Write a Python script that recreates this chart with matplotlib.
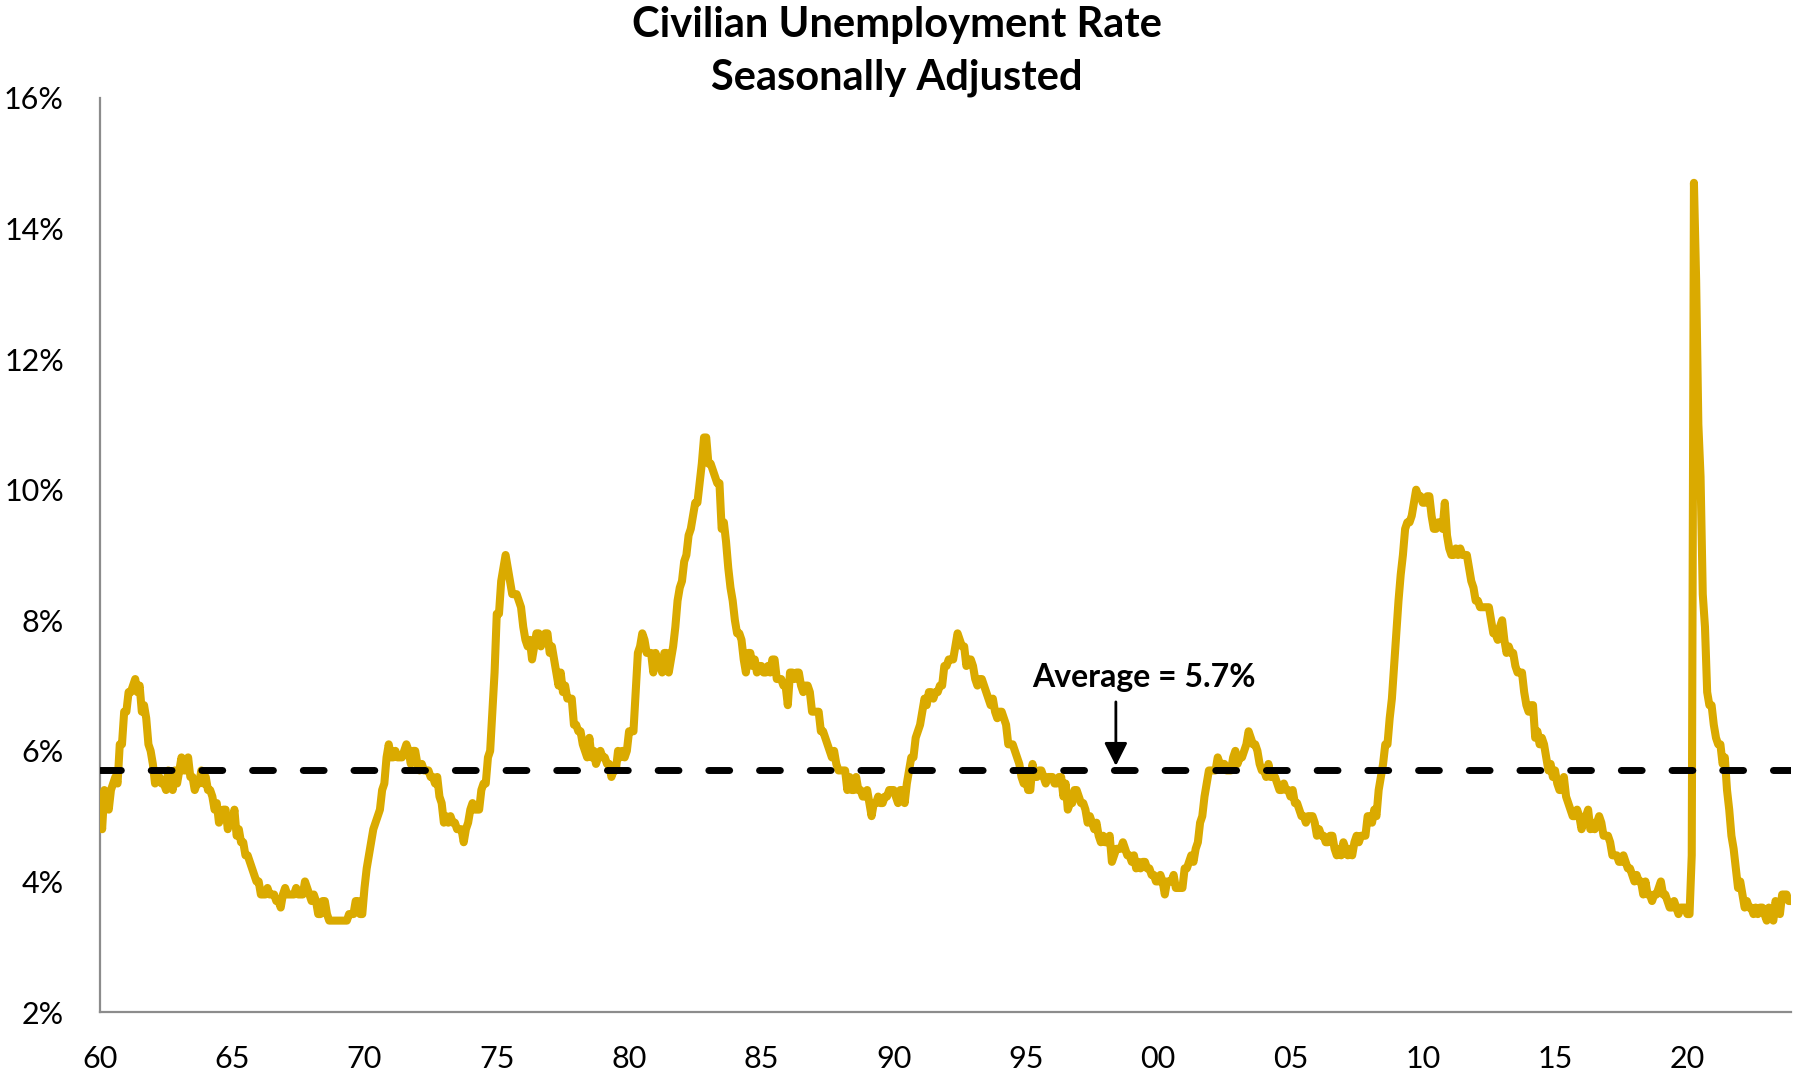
import matplotlib
matplotlib.use("Agg")
import matplotlib.pyplot as plt
import numpy as np

plt.rcParams["font.family"] = ["Lato", "DejaVu Sans"]

# Civilian unemployment rate, monthly, seasonally adjusted (%), Jan 1960 onward
rate_1960s = [
    5.2, 4.8, 5.4, 5.2, 5.1, 5.4, 5.5, 5.6, 5.5, 6.1, 6.1, 6.6,
    6.6, 6.9, 6.9, 7.0, 7.1, 6.9, 7.0, 6.6, 6.7, 6.5, 6.1, 6.0,
    5.8, 5.5, 5.6, 5.6, 5.5, 5.5, 5.4, 5.7, 5.6, 5.4, 5.7, 5.5,
    5.7, 5.9, 5.7, 5.7, 5.9, 5.6, 5.6, 5.4, 5.5, 5.5, 5.7, 5.5,
    5.6, 5.4, 5.4, 5.3, 5.1, 5.2, 4.9, 5.0, 5.1, 5.1, 4.8, 5.0,
    4.9, 5.1, 4.7, 4.8, 4.6, 4.6, 4.4, 4.4, 4.3, 4.2, 4.1, 4.0,
    4.0, 3.8, 3.8, 3.8, 3.9, 3.8, 3.8, 3.8, 3.7, 3.7, 3.6, 3.8,
    3.9, 3.8, 3.8, 3.8, 3.8, 3.9, 3.8, 3.8, 3.8, 4.0, 3.9, 3.8,
    3.7, 3.8, 3.7, 3.5, 3.5, 3.7, 3.7, 3.5, 3.4, 3.4, 3.4, 3.4,
    3.4, 3.4, 3.4, 3.4, 3.4, 3.5, 3.5, 3.5, 3.7, 3.7, 3.5, 3.5,
]
rate_1970s = [
    3.9, 4.2, 4.4, 4.6, 4.8, 4.9, 5.0, 5.1, 5.4, 5.5, 5.9, 6.1,
    5.9, 5.9, 6.0, 5.9, 5.9, 5.9, 6.0, 6.1, 6.0, 5.8, 6.0, 6.0,
    5.8, 5.7, 5.8, 5.7, 5.7, 5.7, 5.6, 5.6, 5.5, 5.6, 5.3, 5.2,
    4.9, 5.0, 4.9, 5.0, 4.9, 4.9, 4.8, 4.8, 4.8, 4.6, 4.8, 4.9,
    5.1, 5.2, 5.1, 5.1, 5.1, 5.4, 5.5, 5.5, 5.9, 6.0, 6.6, 7.2,
    8.1, 8.1, 8.6, 8.8, 9.0, 8.8, 8.6, 8.4, 8.4, 8.4, 8.3, 8.2,
    7.9, 7.7, 7.6, 7.7, 7.4, 7.6, 7.8, 7.8, 7.6, 7.7, 7.8, 7.8,
    7.5, 7.6, 7.4, 7.2, 7.0, 7.2, 6.9, 7.0, 6.8, 6.8, 6.8, 6.4,
    6.4, 6.3, 6.3, 6.1, 6.0, 5.9, 6.2, 5.9, 6.0, 5.8, 5.9, 6.0,
    5.9, 5.9, 5.8, 5.8, 5.6, 5.7, 5.7, 6.0, 5.9, 6.0, 5.9, 6.0,
]
rate_1980s = [
    6.3, 6.3, 6.3, 6.9, 7.5, 7.6, 7.8, 7.7, 7.5, 7.5, 7.5, 7.2,
    7.5, 7.4, 7.4, 7.2, 7.5, 7.5, 7.2, 7.4, 7.6, 7.9, 8.3, 8.5,
    8.6, 8.9, 9.0, 9.3, 9.4, 9.6, 9.8, 9.8, 10.1, 10.4, 10.8, 10.8,
    10.4, 10.4, 10.3, 10.2, 10.1, 10.1, 9.4, 9.5, 9.2, 8.8, 8.5, 8.3,
    8.0, 7.8, 7.8, 7.7, 7.4, 7.2, 7.5, 7.5, 7.3, 7.4, 7.2, 7.3,
    7.3, 7.2, 7.2, 7.3, 7.2, 7.4, 7.4, 7.1, 7.1, 7.1, 7.0, 7.0,
    6.7, 7.2, 7.2, 7.1, 7.2, 7.2, 7.0, 6.9, 7.0, 7.0, 6.9, 6.6,
    6.6, 6.6, 6.6, 6.3, 6.3, 6.2, 6.1, 6.0, 5.9, 6.0, 5.8, 5.7,
    5.7, 5.7, 5.7, 5.4, 5.6, 5.4, 5.4, 5.6, 5.4, 5.4, 5.3, 5.3,
    5.4, 5.2, 5.0, 5.2, 5.2, 5.3, 5.2, 5.2, 5.3, 5.3, 5.4, 5.4,
]
rate_1990s = [
    5.4, 5.3, 5.2, 5.4, 5.4, 5.2, 5.5, 5.7, 5.9, 5.9, 6.2, 6.3,
    6.4, 6.6, 6.8, 6.7, 6.9, 6.9, 6.8, 6.9, 6.9, 7.0, 7.0, 7.3,
    7.3, 7.4, 7.4, 7.4, 7.6, 7.8, 7.7, 7.6, 7.6, 7.3, 7.4, 7.4,
    7.3, 7.1, 7.0, 7.1, 7.1, 7.0, 6.9, 6.8, 6.7, 6.8, 6.6, 6.5,
    6.6, 6.6, 6.5, 6.4, 6.1, 6.1, 6.1, 6.0, 5.9, 5.8, 5.6, 5.5,
    5.6, 5.4, 5.4, 5.8, 5.6, 5.6, 5.7, 5.7, 5.6, 5.5, 5.6, 5.6,
    5.6, 5.5, 5.5, 5.6, 5.6, 5.3, 5.5, 5.1, 5.2, 5.2, 5.4, 5.4,
    5.3, 5.2, 5.2, 5.1, 4.9, 5.0, 4.9, 4.8, 4.9, 4.7, 4.6, 4.7,
    4.6, 4.6, 4.7, 4.3, 4.4, 4.5, 4.5, 4.5, 4.6, 4.5, 4.4, 4.4,
    4.3, 4.4, 4.2, 4.3, 4.2, 4.3, 4.3, 4.2, 4.2, 4.1, 4.1, 4.0,
]
rate_2000s = [
    4.0, 4.1, 4.0, 3.8, 4.0, 4.0, 4.0, 4.1, 3.9, 3.9, 3.9, 3.9,
    4.2, 4.2, 4.3, 4.4, 4.3, 4.5, 4.6, 4.9, 5.0, 5.3, 5.5, 5.7,
    5.7, 5.7, 5.7, 5.9, 5.8, 5.8, 5.8, 5.7, 5.7, 5.7, 5.9, 6.0,
    5.8, 5.9, 5.9, 6.0, 6.1, 6.3, 6.2, 6.1, 6.1, 6.0, 5.8, 5.7,
    5.7, 5.6, 5.8, 5.6, 5.6, 5.6, 5.5, 5.4, 5.4, 5.5, 5.4, 5.4,
    5.3, 5.4, 5.2, 5.2, 5.1, 5.0, 5.0, 4.9, 5.0, 5.0, 5.0, 4.9,
    4.7, 4.8, 4.7, 4.7, 4.6, 4.6, 4.7, 4.7, 4.5, 4.4, 4.5, 4.4,
    4.6, 4.5, 4.4, 4.5, 4.4, 4.6, 4.7, 4.6, 4.7, 4.7, 4.7, 5.0,
    5.0, 4.9, 5.1, 5.0, 5.4, 5.6, 5.8, 6.1, 6.1, 6.5, 6.8, 7.3,
    7.8, 8.3, 8.7, 9.0, 9.4, 9.5, 9.5, 9.6, 9.8, 10.0, 9.9, 9.9,
]
rate_2010s = [
    9.8, 9.8, 9.9, 9.9, 9.6, 9.4, 9.4, 9.5, 9.5, 9.4, 9.8, 9.3,
    9.1, 9.0, 9.0, 9.1, 9.0, 9.1, 9.0, 9.0, 9.0, 8.8, 8.6, 8.5,
    8.3, 8.3, 8.2, 8.2, 8.2, 8.2, 8.2, 8.0, 7.8, 7.8, 7.7, 7.9,
    8.0, 7.7, 7.5, 7.6, 7.5, 7.5, 7.3, 7.2, 7.2, 7.2, 6.9, 6.7,
    6.6, 6.7, 6.7, 6.2, 6.3, 6.1, 6.2, 6.1, 5.9, 5.7, 5.8, 5.6,
    5.7, 5.5, 5.4, 5.4, 5.6, 5.3, 5.2, 5.1, 5.0, 5.0, 5.1, 5.0,
    4.8, 4.9, 5.0, 5.1, 4.8, 4.9, 4.8, 4.9, 5.0, 4.9, 4.7, 4.7,
    4.7, 4.6, 4.4, 4.4, 4.4, 4.3, 4.3, 4.4, 4.3, 4.2, 4.2, 4.1,
    4.0, 4.1, 4.0, 4.0, 3.8, 4.0, 3.8, 3.8, 3.7, 3.8, 3.8, 3.9,
    4.0, 3.8, 3.8, 3.7, 3.6, 3.6, 3.7, 3.6, 3.5, 3.6, 3.6, 3.6,
]
rate_2020s = [
    3.5, 3.5, 4.4, 14.7, 13.2, 11.0, 10.2, 8.4, 7.9, 6.9, 6.7, 6.7,
    6.4, 6.2, 6.1, 6.1, 5.8, 5.9, 5.4, 5.1, 4.7, 4.5, 4.2, 3.9,
    4.0, 3.8, 3.6, 3.7, 3.6, 3.6, 3.5, 3.6, 3.5, 3.6, 3.6, 3.5,
    3.4, 3.6, 3.5, 3.4, 3.7, 3.6, 3.5, 3.8, 3.8, 3.8, 3.7, 3.7,
]

AVERAGE = 5.7
tick_years = [1960, 1965, 1970, 1975, 1980, 1985, 1990, 1995, 2000, 2005, 2010, 2015, 2020]
tick_labels = ["60", "65", "70", "75", "80", "85", "90", "95", "00", "05", "10", "15", "20"]
y_ticks = [2, 4, 6, 8, 10, 12, 14, 16]

rate = np.array(rate_1960s + rate_1970s + rate_1980s + rate_1990s
                + rate_2000s + rate_2010s + rate_2020s)
dates = 1960 + np.arange(len(rate)) / 12.0

GOLD = "#DAAA00"
AXIS_GREY = "#8C8C8C"

fig = plt.figure(figsize=(17.94, 10.74), dpi=100)
ax = fig.add_axes([0.0557, 0.0577, 0.9426, 0.8511])

ax.plot(dates, rate, color=GOLD, lw=5.8, solid_joinstyle="round",
        solid_capstyle="round", zorder=3)
ax.axhline(AVERAGE, color="black", lw=5, dashes=(3.0, 4.3),
           dash_capstyle="round", zorder=4)

ax.annotate("", xy=(1998.4, AVERAGE + 0.07), xytext=(1998.4, 6.75),
            arrowprops=dict(arrowstyle="-|>,head_length=0.7,head_width=0.35",
                            color="black", lw=2, mutation_scale=20,
                            shrinkA=0, shrinkB=0), zorder=5)
ax.text(1999.45, 6.98, f"Average = {AVERAGE}%", ha="center", va="baseline",
        fontsize=23, fontweight="bold", zorder=5)

ax.set_xlim(dates[0], dates[-1])
ax.set_ylim(2, 16)
ax.set_xticks(tick_years)
ax.set_xticklabels(tick_labels)
ax.set_yticks(y_ticks)
ax.set_yticklabels([f"{v}%" for v in y_ticks])
ax.tick_params(axis="both", length=0, labelsize=22)
ax.tick_params(axis="y", pad=26)
ax.tick_params(axis="x", pad=24)

for side in ("top", "right"):
    ax.spines[side].set_visible(False)
for side in ("left", "bottom"):
    ax.spines[side].set_color(AXIS_GREY)
    ax.spines[side].set_linewidth(1.6)

fig.text(0.5, 0.966, "Civilian Unemployment Rate", ha="center", va="baseline",
         fontsize=30, fontweight="bold")
fig.text(0.5, 0.917, "Seasonally Adjusted", ha="center", va="baseline",
         fontsize=30, fontweight="bold")

fig.savefig("out.png", dpi=100)
